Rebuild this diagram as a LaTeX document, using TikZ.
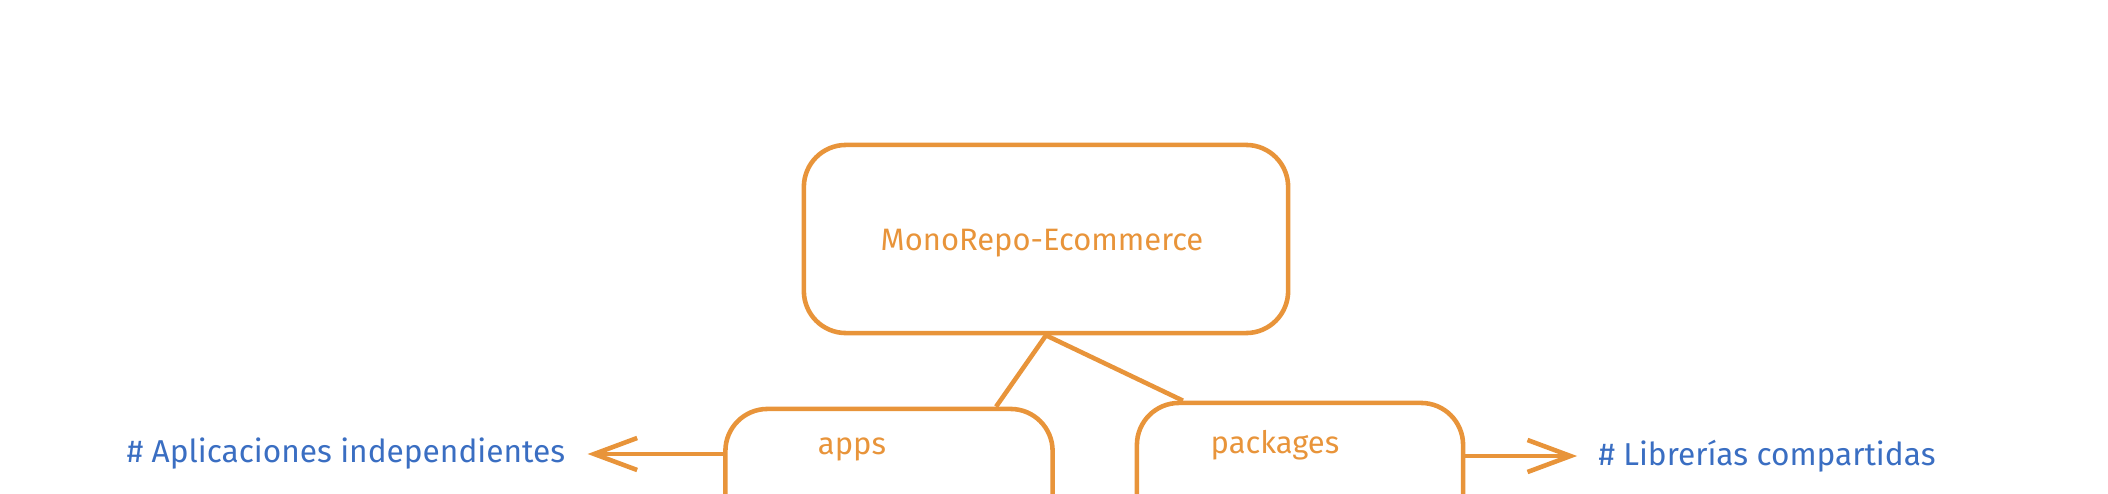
\documentclass[tikz,border=0pt]{standalone}
\usepackage{fontspec}
\setmainfont{Fira Sans}
\usepackage{tikz}
\usetikzlibrary{positioning}
\usetikzlibrary{arrows.meta}
\definecolor{repoorange}{HTML}{E8943A}
\definecolor{noteblue}{HTML}{3A6EC2}

\begin{document}
\begin{tikzpicture}[
							x=0.01cm, y=-0.01cm,
							repobox/.style={draw=repoorange, line width=1.3pt, rounded corners=0.42cm, minimum height=1.88cm},
							repotext/.style={text=repoorange, font=\fontsize{8.8}{11}\selectfont},
							notetext/.style={text=noteblue, font=\fontsize{9}{11}\selectfont},
							link/.style={draw=repoorange, line width=1.3pt},
							arr/.style={draw=repoorange, line width=1.3pt, -{Straight Barb[length=0.43cm, width=0.32cm, line width=1.3pt]}},
							]
							\useasboundingbox (0,0) rectangle (2108,494);
							\clip (0,0) rectangle (2108,494);
							%Nodes
							\node[repobox, minimum width=4.84cm]      (mono) 	at 	(1046,239)      {};
							\node[repotext]      (monolbl) 	at 	(1042,243)      {MonoRepo-Ecommerce};
							\node[repobox, minimum width=3.27cm]      (apps) 	at 	(889,503)       {};
							\node[repotext]      (appslbl) 	at 	(852,449)       {apps};
							\node[repobox, minimum width=3.26cm]      (pkgs) 	at 	(1300,497)      {};
							\node[repotext]      (pkgslbl) 	at 	(1275,445)      {packages};
							\node[notetext]      (aplic) 	at 	(346,454)       {\# Aplicaciones independientes};
							\node[notetext]      (libs) 	at 	(1767,456)      {\# Librerías compartidas};
							
							%Connectors
							\draw[link] (mono.south) --  ([xshift=1.07cm]apps.north);
							\draw[link] (mono.south) --  ([xshift=-1.17cm]pkgs.north);
							\draw[arr] (apps.west |- aplic) --  ([xshift=0.1cm]aplic.east);
							\draw[arr] (pkgs.east |- libs) --  ([xshift=-0.09cm]libs.west);
						\end{tikzpicture}
\end{document}
